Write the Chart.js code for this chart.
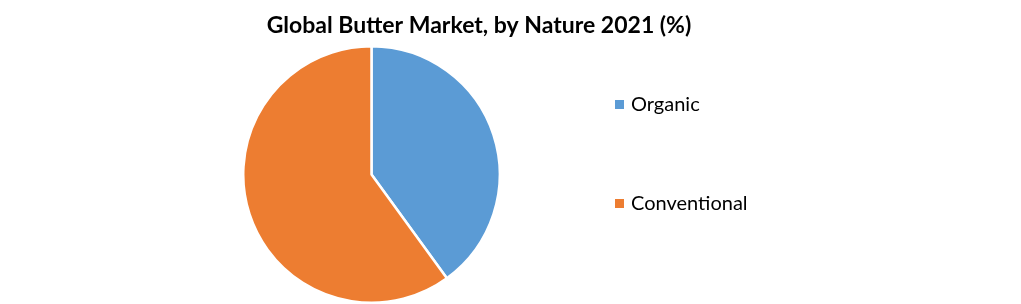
<!DOCTYPE html>
<html>
<head>
<meta charset="utf-8">
<script src="https://cdn.jsdelivr.net/npm/chart.js@4"></script>
<style>
	html, body { margin:0; padding:0; background:#fff; }
	#wrap { width:1021px; height:304px; position:relative; }
</style>
</head>
<body>
<div id="wrap"><canvas id="nature"></canvas></div>
<script>
var title = "Global Butter Market, by Nature 2021 (%)";
var labels = ["Organic", "Conventional"];
var shares = [40, 60];
var colors = ["#5B9BD5", "#ED7D31"];

// title and side legend drawn at fixed spots like the original
var decor = {
	id: "decor",
	afterDraw: function (chart) {
		var ctx = chart.ctx;
		ctx.save();
		ctx.fillStyle = "#000";
		ctx.textBaseline = "middle";
		ctx.textAlign = "center";
		ctx.font = "bold 23px Lato";
		ctx.fillText(title, 479, 26);

		ctx.textAlign = "left";
		ctx.font = "20px Lato";
		var ys = [105, 204];
		for (var i = 0; i < labels.length; i++) {
			var c = chart.data.datasets[0].backgroundColor[i];
			ctx.fillStyle = c;
			ctx.fillRect(615, ys[i] - 5, 9, 9);
			ctx.fillStyle = "#000";
			ctx.fillText(chart.data.labels[i], 631, ys[i]);
		}
		ctx.restore();
	}
};

new Chart(document.getElementById("nature"), {
	type: "pie",
	data: {
		labels: labels,
		datasets: [{
			data: shares,
			backgroundColor: colors,
			borderColor: "#fff",
			borderWidth: 2.5
		}]
	},
	options: {
		responsive: true,
		maintainAspectRatio: false,
		animation: false,
		events: [],
		layout: { padding: { top: 45, bottom: 0, left: 0, right: 278 } },
		plugins: {
			legend: { display: false },
			title: { display: false },
			tooltip: { enabled: false }
		}
	},
	plugins: [decor]
});
</script>
</body>
</html>
